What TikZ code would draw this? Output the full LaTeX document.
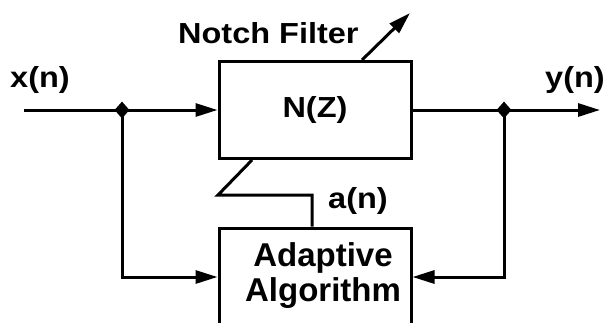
\documentclass[tikz,border=0pt]{standalone}
\usepackage{fontspec}
\setmainfont{Liberation Sans}
\newfontfamily\lblfont[FakeStretch=1.12]{Liberation Sans}
\usetikzlibrary{arrows.meta,shapes.geometric}
\begin{document}
\begin{tikzpicture}[x=1pt,y=-1pt,
  wire/.style={line width=3pt},
  sig/.style={wire,-{Triangle[length=22pt,width=13pt]}},
  lbl/.style={font=\lblfont\fontsize{29}{32}\selectfont\bfseries, inner sep=0pt},
  boxtext/.style={font=\fontsize{33}{35}\selectfont\bfseries, inner sep=0pt, align=center},
  blk/.style={draw, line width=3pt, inner sep=0pt},
  jn/.style={diamond, fill, inner sep=0pt, minimum width=15pt, minimum height=17pt}]
\path[use as bounding box, clip] (0,0) rectangle (610,322);
\fill[white] (0,0) rectangle (610,322);

% blocks
\node[blk, minimum width=192pt, minimum height=97pt] (nf) at (315,110) {};
\node[lbl] (nz) at (315,110) {N(Z)};
\node[blk, minimum width=192pt, minimum height=98pt] (ad) at (315,277) {};
\node[boxtext] (adt) at (323,276) {Adaptive\\Algorithm};

% labels
\node[lbl, anchor=base west] (xl) at (10,87) {x(n)};
\node[lbl, anchor=base west] (yl) at (545,87) {y(n)};
\node[lbl, anchor=base west] (nl) at (178,43) {Notch Filter};
\node[lbl, anchor=base west] (al) at (328,208) {a(n)};

% signal points
\coordinate (xin) at (24,110);
\coordinate (yout) at (600,110);
\node[jn] (j1) at (122,110) {};
\node[jn] (j2) at (504,110) {};

% connections
\draw[sig] (xin) -- (nf.west);
\draw[sig] (nf.east) -- (yout);
\draw[sig] (j1.center) |- (ad.west);
\draw[sig] (j2.center) |- (ad.east);
\draw[wire] ([xshift=-63pt]nf.south) -- ++(-34,35) -| ([xshift=-3pt]ad.north);
\draw[sig] ([xshift=47pt]nf.north) -- ++(48,-47);
\end{tikzpicture}
\end{document}
